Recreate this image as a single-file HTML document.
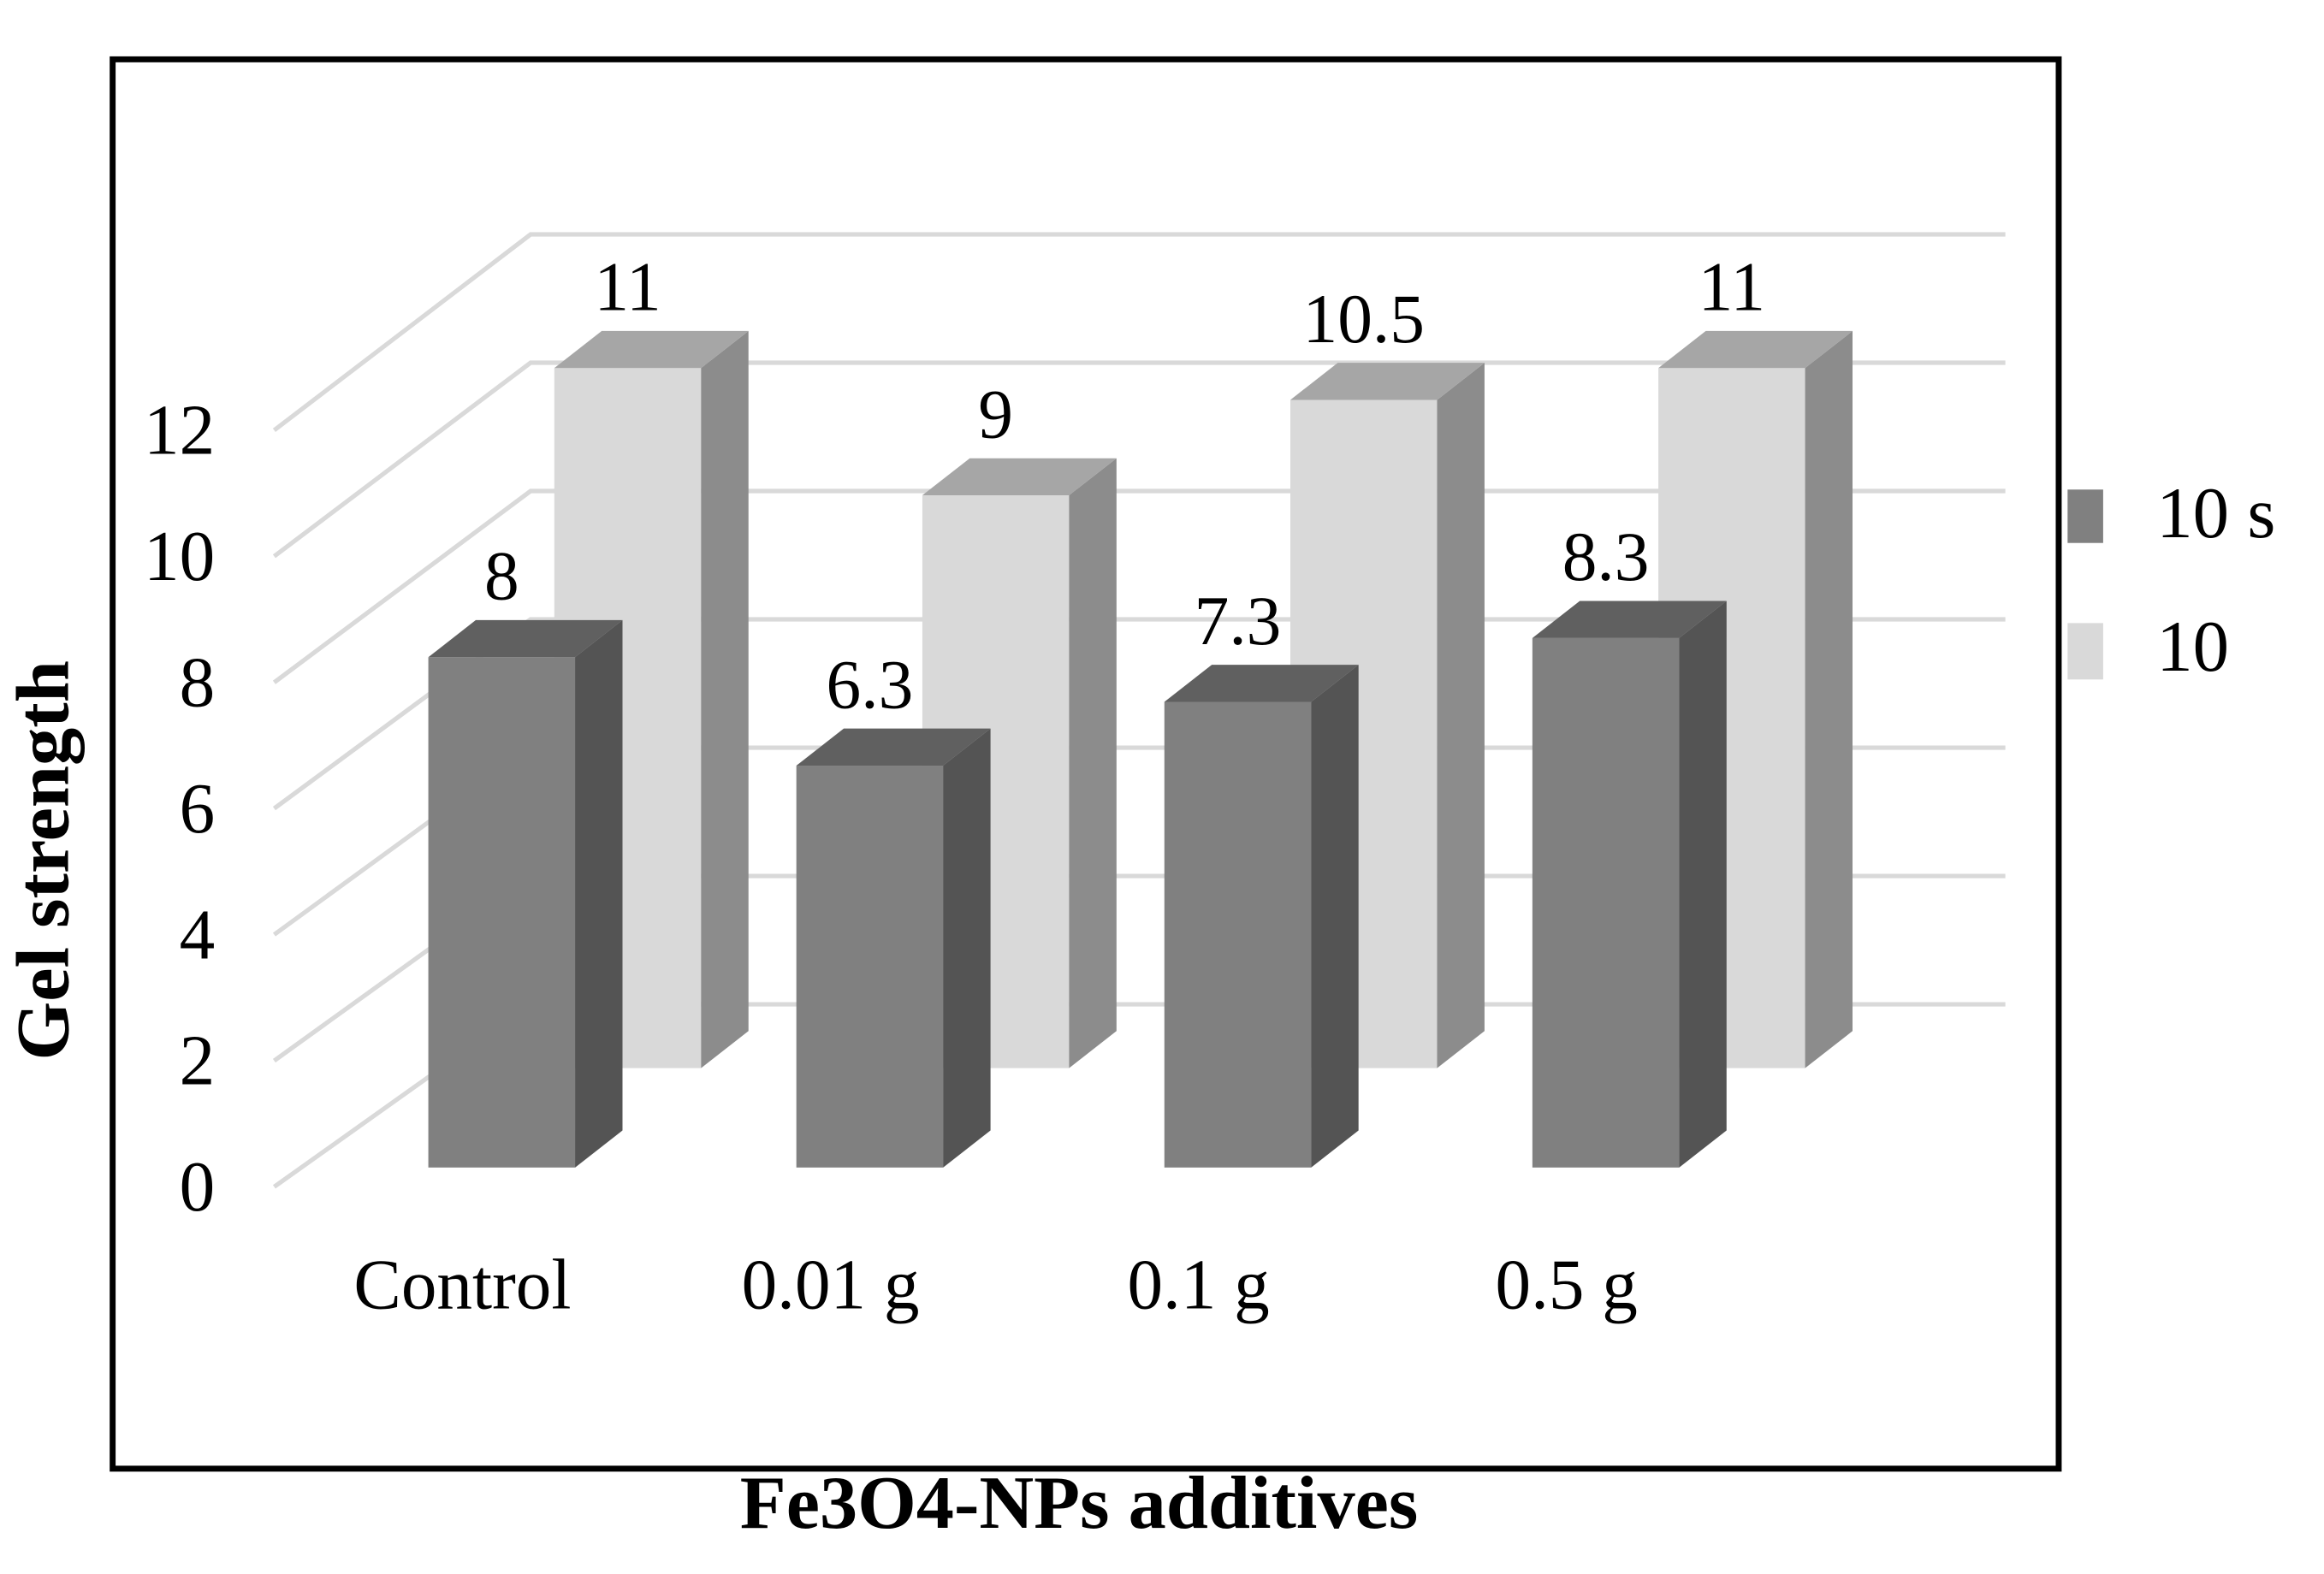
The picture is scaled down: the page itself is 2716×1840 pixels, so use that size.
<!DOCTYPE html>
<html><head><meta charset="utf-8"><style>
html,body{margin:0;padding:0;background:#fff;}
svg{display:block;font-family:"Liberation Serif",serif;}
</style></head><body>
<svg id="chart" width="2716" height="1840" viewBox="0 0 1568 1061" preserveAspectRatio="none" xmlns="http://www.w3.org/2000/svg">
<rect x="76" y="40" width="1313" height="950" fill="#fff" stroke="#000" stroke-width="4"/>
<g id="grid"></g>
<g id="bars"></g>
<g id="labels"></g>
<g>
<rect x="1395" y="330" width="24" height="36" fill="#808080"/>
<text x="1455" y="362" font-size="49">10 s</text>
<rect x="1395" y="420" width="24" height="38" fill="#d9d9d9"/>
<text x="1455" y="452" font-size="49">10</text>
</g>
<text transform="translate(46,580) rotate(-90)" text-anchor="middle" font-size="51" font-weight="bold">Gel strength</text>
<text x="728" y="1030" text-anchor="middle" font-size="51" font-weight="bold">Fe3O4-NPs additives</text>
</svg>
<script>
const categories = ["Control", "0.01 g", "0.1 g", "0.5 g"];
const series10s = [8, 6.3, 7.3, 8.3];
const series10 = [11, 9, 10.5, 11];
const yTicks = [0, 2, 4, 6, 8, 10, 12];
const ns = "http://www.w3.org/2000/svg";
const grid = document.getElementById("grid");
const bars = document.getElementById("bars");
const labels = document.getElementById("labels");
function mk(tag, attrs, parent){const e=document.createElementNS(ns,tag);for(const k in attrs)e.setAttribute(k,attrs[k]);parent.appendChild(e);return e;}
const frontY = v => 800 - v * 42.5;
const backY = v => 677 - v * 43.25;
const frontBarY = v => 787 - v * 43;
const backBarY = v => 720 - v * 42.9;
const catX = i => 289 + i * 248.3;
const W = 99, DX = 32, DY = 25;
yTicks.forEach(t=>{
  const l1=mk("polyline",{points:`185,${frontY(t)} 358,${backY(t)} 1353,${backY(t)}`,fill:"none",stroke:"#d9d9d9","stroke-width":3},grid);
  
  
  const tx=mk("text",{x:145,y:frontY(t)+16,"text-anchor":"end","font-size":48},labels);
  tx.textContent=t;
  
  
});
function bar(x, base, top, cols, name, val){
  const g=mk("g",{},bars);
  
  
  mk("rect",{x:x,y:top,width:W,height:base-top,fill:cols[0]},g);
  mk("polygon",{points:`${x+W},${top} ${x+W+DX},${top-DY} ${x+W+DX},${base-DY} ${x+W},${base}`,fill:cols[1]},g);
  mk("polygon",{points:`${x},${top} ${x+DX},${top-DY} ${x+W+DX},${top-DY} ${x+W},${top}`,fill:cols[2]},g);
  const t=mk("text",{x:x+W/2,y:top-DY-14,"text-anchor":"middle","font-size":47},labels);
  t.textContent=val;
  
  
}
categories.forEach((c,i)=>{
  bar(catX(i)+85, 720, backBarY(series10[i]), ["#d9d9d9","#8c8c8c","#a6a6a6"], "bar-10-"+i, series10[i]);
});
categories.forEach((c,i)=>{
  bar(catX(i), 787, frontBarY(series10s[i]), ["#808080","#545454","#606060"], "bar-10s-"+i, series10s[i]);
  const t=mk("text",{x:catX(i)+23,y:882,"text-anchor":"middle","font-size":48},labels);
  t.textContent=c;
  
  
});
</script>
</body></html>
